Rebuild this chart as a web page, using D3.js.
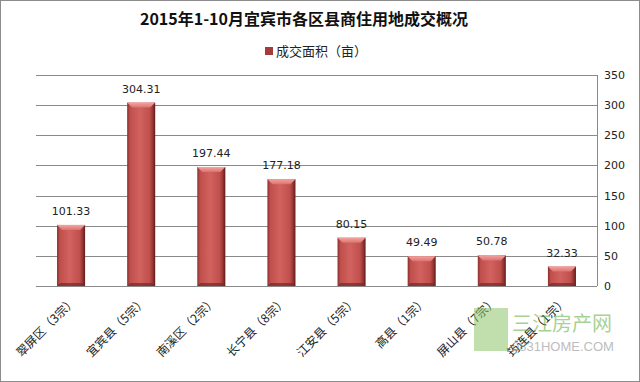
<!DOCTYPE html>
<html><head><meta charset="utf-8">
<script src="https://cdn.jsdelivr.net/npm/d3@7/dist/d3.min.js"></script>
<style>body{margin:0;background:#fff}svg{display:block}</style>
</head><body>
<script>
const categories = ["翠屏区（3宗）","宜宾县（5宗）","南溪区（2宗）","长宁县（8宗）","江安县（5宗）","高县（1宗）","屏山县（7宗）","筠连县（1宗）"];
const values = [101.33, 304.31, 197.44, 177.18, 80.15, 49.49, 50.78, 32.33];
const yTicks = [0, 50, 100, 150, 200, 250, 300, 350];
const title = "2015年1-10月宜宾市各区县商住用地成交概况";
const seriesName = "成交面积（亩）";

const W = 640, H = 382;
const m = {left: 36, right: 43, top: 75, bottom: 96};
const svg = d3.select("body").append("svg").attr("width", W).attr("height", H);
const defs = svg.append("defs");
const g1 = defs.append("linearGradient").attr("id","barH").attr("x1",0).attr("x2",1).attr("y1",0).attr("y2",0);
[[0,"#8a2e2c"],[0.1,"#bf4f4c"],[0.45,"#d2625e"],[0.8,"#c0504d"],[0.9,"#9c3936"],[1,"#5e1c1b"]].forEach(s=>g1.append("stop").attr("offset",s[0]).attr("stop-color",s[1]));
const g2 = defs.append("linearGradient").attr("id","barTop").attr("x1",0).attr("x2",0).attr("y1",0).attr("y2",1);
[[0,"#f4a5a1"],[1,"#dc726e"]].forEach(s=>g2.append("stop").attr("offset",s[0]).attr("stop-color",s[1]));

svg.append("rect").attr("x",0.5).attr("y",0.5).attr("width",W-1).attr("height",H-1).attr("fill","#fff").attr("stroke","#8c8c8c");

const x = d3.scaleBand().domain(categories).range([m.left, W - m.right]).paddingInner(0.6).paddingOuter(0.3);
const y = d3.scaleLinear().domain([0, 350]).range([H - m.bottom, m.top]);

// gridlines
svg.append("g").selectAll("line").data(yTicks).join("line")
  .attr("x1", m.left).attr("x2", W - m.right)
  .attr("y1", d => Math.round(y(d)) + 0.5).attr("y2", d => Math.round(y(d)) + 0.5)
  .attr("stroke", "#8a8a8a").attr("stroke-width", 1);
svg.append("line").attr("x1", W - m.right + 0.5).attr("x2", W - m.right + 0.5)
  .attr("y1", y(350)).attr("y2", y(0)).attr("stroke","#8a8a8a");

// right axis labels
const yAxis = d3.axisRight(y).tickValues(yTicks).tickSize(0).tickPadding(7);
const ya = svg.append("g").attr("transform", `translate(${W - m.right},0)`).call(yAxis);
ya.select(".domain").remove();
ya.selectAll("text").attr("font-family","Verdana, DejaVu Sans, sans-serif").attr("font-size",11).attr("fill","#222");

// bars
const bars = svg.append("g").selectAll("g").data(values).join("g");
bars.append("rect")
  .attr("x", (d,i) => x(categories[i])).attr("width", x.bandwidth())
  .attr("y", d => y(d)).attr("height", d => y(0) - y(d))
  .attr("fill", "url(#barH)");
bars.append("path")
  .attr("d", (d,i) => {
    const x0 = x(categories[i]), w = x.bandwidth(), t = y(d), b = 5;
    return `M${x0},${t}L${x0+w},${t}L${x0+w-b},${t+b}L${x0+b},${t+b}Z`;
  })
  .attr("fill", "url(#barTop)");
bars.append("path")
  .attr("d", (d,i) => {
    const x0 = x(categories[i]), w = x.bandwidth(), bt = y(0), b = 3;
    return `M${x0},${bt}L${x0+w},${bt}L${x0+w-b},${bt-b}L${x0+b},${bt-b}Z`;
  })
  .attr("fill", "#7a2624").attr("opacity", 0.7);
bars.append("text")
  .attr("x", (d,i) => x(categories[i]) + x.bandwidth()/2)
  .attr("y", d => y(d) - 10)
  .attr("text-anchor","middle")
  .attr("font-family","Verdana, DejaVu Sans, sans-serif").attr("font-size",11).attr("fill","#222")
  .text(d => d.toFixed(2));

// x labels
svg.append("g").selectAll("text").data(categories).join("text")
  .attr("transform", d => `translate(${x(d) + x.bandwidth()/2},${y(0) + 10}) rotate(-45)`)
  .attr("text-anchor","end").attr("dy","0.7em")
  .attr("font-family","Noto Sans CJK SC, sans-serif").attr("font-size",12).attr("fill","#222")
  .text(d => d);

// title
svg.append("text").attr("x", 304).attr("y", 25).attr("text-anchor","middle")
  .attr("font-family","Noto Sans CJK SC, sans-serif").attr("font-weight","bold").attr("font-size",16).attr("fill","#111")
  .text(title);
// legend
svg.append("rect").attr("x", 265).attr("y", 47).attr("width", 8).attr("height", 8).attr("fill","#a33c3a");
svg.append("text").attr("x", 276).attr("y", 56)
  .attr("font-family","Noto Sans CJK SC, sans-serif").attr("font-size",13).attr("fill","#222")
  .text(seriesName);

// watermark
const wm = svg.append("g").attr("opacity",0.55);
wm.append("rect").attr("x",474).attr("y",308).attr("width",34).attr("height",43).attr("fill","#8cc46a");
wm.append("text").attr("x",512).attr("y",331).attr("font-family","Noto Sans CJK SC, sans-serif").attr("font-size",20).attr("fill","#5fae3c").text("三江房产网");
wm.append("text").attr("x",512).attr("y",351).attr("font-family","Liberation Sans Narrow, Liberation Sans, sans-serif").attr("font-size",13).attr("fill","#888").text("0831HOME.COM");
</script>
</body></html>
